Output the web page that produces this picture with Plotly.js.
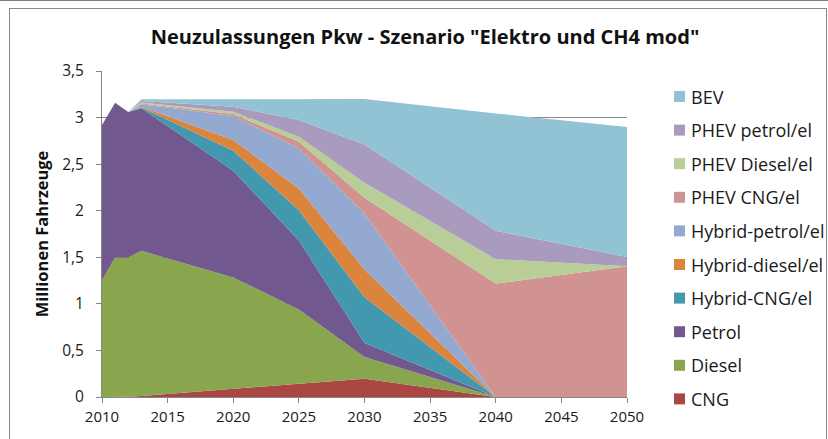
<!DOCTYPE html>
<html>
<head>
<meta charset="utf-8">
<script src="https://cdn.plot.ly/plotly-3.0.1.min.js"></script>
<style>
  html, body { margin: 0; padding: 0; background: #fff; }
  #wrap { position: relative; width: 828px; height: 439px; overflow: hidden; }
  #topline { position: absolute; left: 0; top: 0; width: 828px; height: 0; border-top: 1px solid #7f7f7f; }
  #frame { position: absolute; left: 9px; top: 8px; width: 816px; height: 440px; border: 1px solid #888; }
  #chart { position: absolute; left: 0; top: 0; width: 828px; height: 439px; }
</style>
</head>
<body>
<div id="wrap">
  <div id="topline"></div>
  <div id="frame"></div>
  <div id="chart"></div>
</div>
<script>
// Years (x values)
const years = [2010, 2011, 2012, 2013, 2020, 2025, 2030, 2040, 2050];

// Series values (Millionen Fahrzeuge), stacked bottom -> top
const cng          = [0.000, 0.000, 0.003, 0.010, 0.083, 0.143, 0.197, 0.000, 0.000];
const diesel       = [1.254, 1.498, 1.495, 1.559, 1.200, 0.797, 0.233, 0.000, 0.000];
const petrol       = [1.666, 1.662, 1.562, 1.531, 1.147, 0.740, 0.150, 0.000, 0.000];
const hybridCng    = [0.000, 0.000, 0.000, 0.007, 0.215, 0.326, 0.490, 0.000, 0.000];
const hybridDiesel = [0.000, 0.000, 0.000, 0.010, 0.113, 0.233, 0.300, 0.000, 0.000];
const hybridPetrol = [0.000, 0.000, 0.000, 0.025, 0.258, 0.430, 0.600, 0.000, 0.000];
const phevCng      = [0.000, 0.000, 0.000, 0.010, 0.022, 0.071, 0.170, 1.218, 1.404];
const phevDiesel   = [0.000, 0.000, 0.000, 0.010, 0.025, 0.054, 0.160, 0.262, 0.000];
const phevPetrol   = [0.000, 0.000, 0.000, 0.015, 0.054, 0.179, 0.410, 0.304, 0.100];
const bev          = [0.000, 0.000, 0.000, 0.020, 0.079, 0.223, 0.490, 1.261, 1.396];

// Series names (bottom -> top) and colours
const seriesNames  = ["CNG", "Diesel", "Petrol", "Hybrid-CNG/el", "Hybrid-diesel/el", "Hybrid-petrol/el",
                      "PHEV CNG/el", "PHEV Diesel/el", "PHEV petrol/el", "BEV"];
const seriesValues = [cng, diesel, petrol, hybridCng, hybridDiesel, hybridPetrol, phevCng, phevDiesel, phevPetrol, bev];
const seriesColors = ["#AA4643", "#89A54E", "#71588F", "#4198AF", "#DB843D", "#93A9CF",
                      "#D19392", "#B9CD96", "#A99BBD", "#92C3D5"];

const titleText = 'Neuzulassungen Pkw - Szenario "Elektro und CH4 mod"';
const yTitle = "Millionen Fahrzeuge";

const FONT = "Open Sans, Noto Sans, DejaVu Sans, sans-serif";
const W = 828, H = 439;
const M = { l: 102, r: 201, t: 71, b: 42 };
const plotW = W - M.l - M.r, plotH = H - M.t - M.b;

const traces = seriesNames.map((n, i) => ({
  type: "scatter",
  mode: "lines",
  x: years,
  y: seriesValues[i],
  name: n,
  stackgroup: "one",
  line: { width: 0, color: seriesColors[i] },
  fillcolor: seriesColors[i],
  hoverinfo: "x+y+name",
  showlegend: false
}));

// Custom legend (top: BEV ... bottom: CNG)
const shapes = [];
const annotations = [];
const legTop = 96.5, legStep = 33.6;
for (let k = 0; k < seriesNames.length; k++) {
  const i = seriesNames.length - 1 - k;
  const cy = legTop + k * legStep;
  const px2x = p => (p - M.l) / plotW;
  const py2y = p => (H - M.b - p) / plotH;
  shapes.push({
    type: "rect", xref: "paper", yref: "paper",
    x0: px2x(674), x1: px2x(685), y0: py2y(cy + 5.5), y1: py2y(cy - 5.5),
    fillcolor: seriesColors[i], line: { width: 0 }
  });
  annotations.push({
    xref: "paper", yref: "paper", x: px2x(689), y: py2y(cy),
    xanchor: "left", yanchor: "middle", showarrow: false,
    text: seriesNames[i], font: { family: FONT, size: 18, color: "#1a1a1a" }
  });
}

const layout = {
  width: W, height: H,
  margin: M,
  paper_bgcolor: "rgba(0,0,0,0)",
  plot_bgcolor: "rgba(0,0,0,0)",
  separators: ",.",
  showlegend: false,
  title: {
    text: titleText,
    font: { family: FONT, size: 20, color: "#111", weight: "bold" },
    x: 425 / W, xanchor: "center",
    y: 1 - 37 / H, yanchor: "middle"
  },
  xaxis: {
    range: [2010, 2050],
    tickmode: "linear", tick0: 2010, dtick: 5,
    ticks: "outside", ticklen: 5, tickcolor: "#868686",
    showline: true, linecolor: "#868686", linewidth: 1,
    showgrid: false, zeroline: false,
    ticklabelstandoff: 1,
    tickfont: { family: FONT, size: 15, color: "#1a1a1a" }
  },
  yaxis: {
    range: [0, 3.5],
    tickmode: "linear", tick0: 0, dtick: 0.5,
    ticks: "outside", ticklen: 5, tickcolor: "#868686",
    showline: true, linecolor: "#868686", linewidth: 1,
    showgrid: true, gridcolor: "#868686", gridwidth: 1,
    zeroline: false,
    ticklabelstandoff: 9,
    tickfont: { family: FONT, size: 15.5, color: "#1a1a1a" },
    title: {
      text: yTitle,
      font: { family: FONT, size: 16.5, color: "#111", weight: "bold" },
      standoff: 9
    }
  },
  shapes: shapes,
  annotations: annotations
};

Plotly.newPlot("chart", traces, layout, { staticPlot: true, displayModeBar: false });
</script>
</body>
</html>
